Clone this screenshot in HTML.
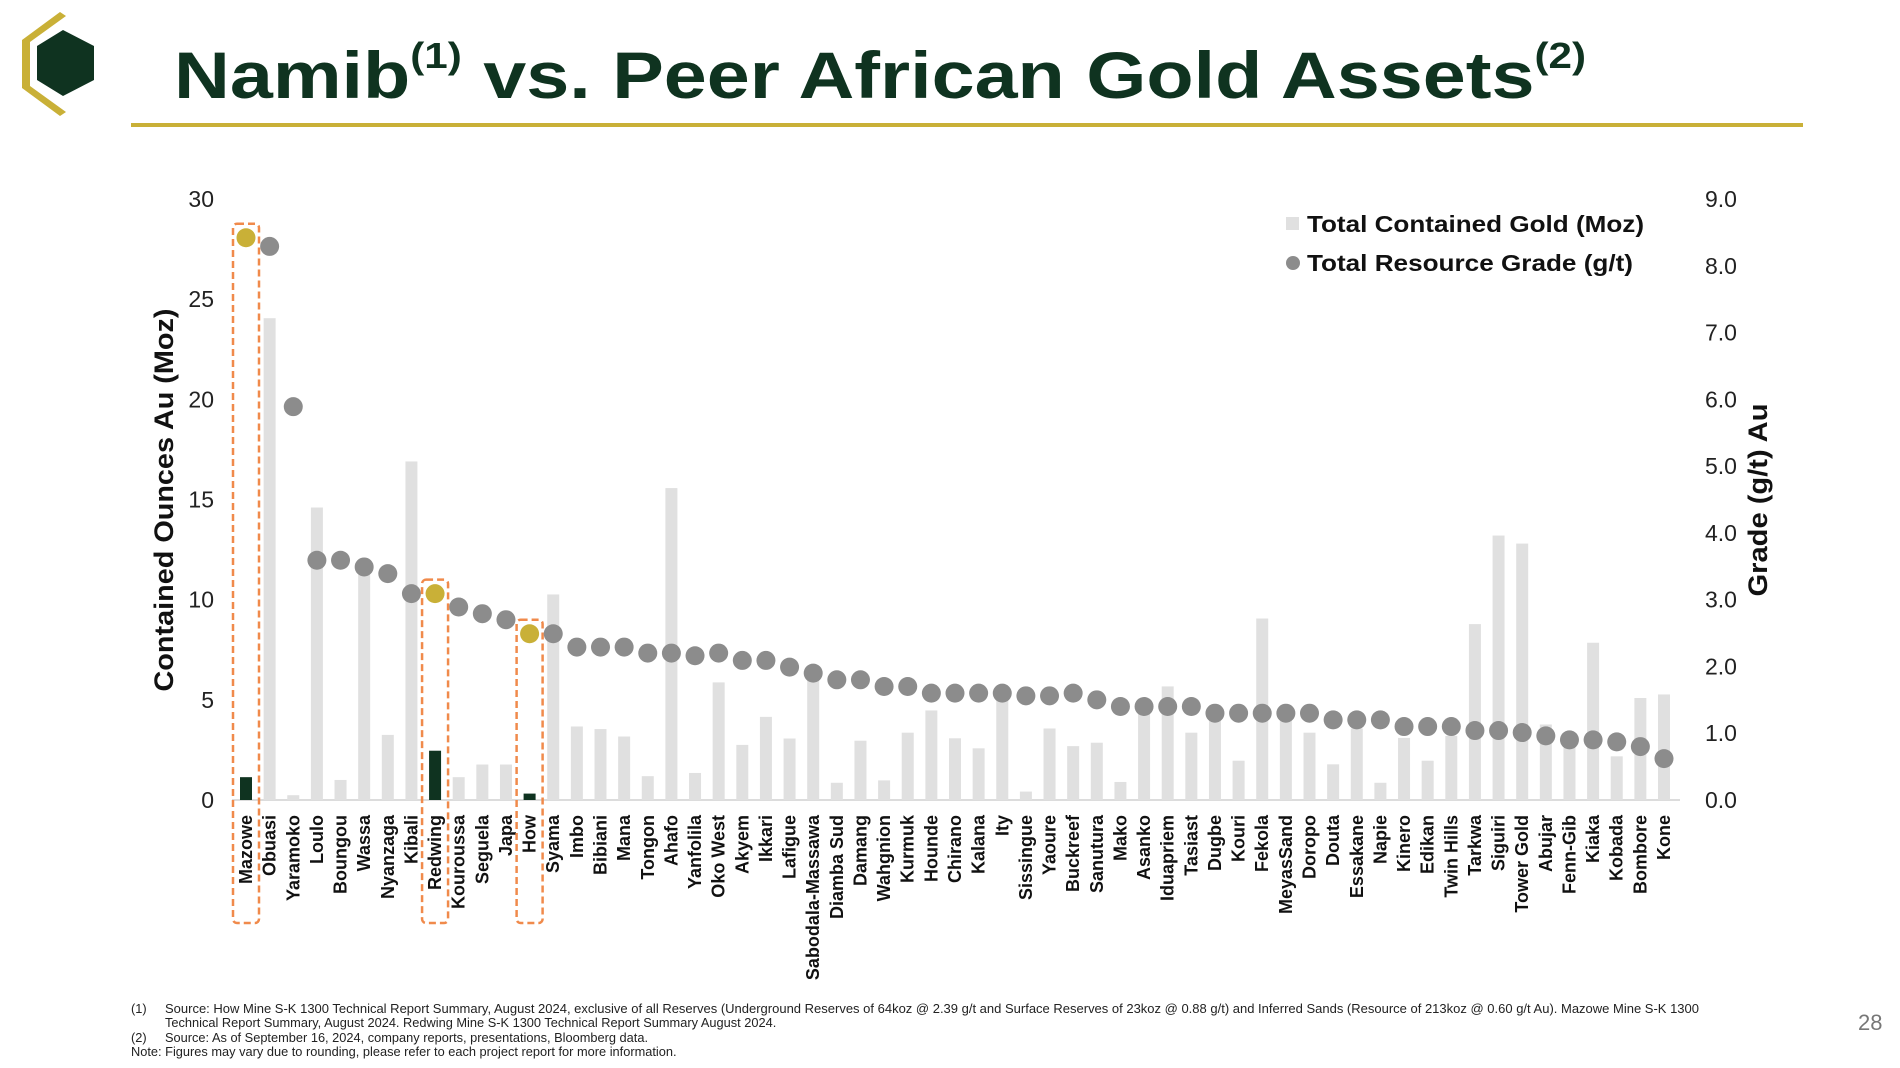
<!DOCTYPE html>
<html><head><meta charset="utf-8"><style>
html,body{margin:0;padding:0;background:#fff;}
svg{display:block;font-family:"Liberation Sans",sans-serif;}
</style></head><body>
<svg id="s" width="1900" height="1068" viewBox="0 0 1900 1068" xmlns="http://www.w3.org/2000/svg">
<g>
<polygon points="60,12 22,40 22,88 60,116 66,112 30,86 30,42 66,16" fill="#c9b037"/>
<polygon points="63,30 94,46 94,80 63,96 37,80 37,46" fill="#0f3320"/>
</g>
<text x="174" y="98" font-size="66" font-weight="bold" fill="#0f3320" textLength="1412" lengthAdjust="spacingAndGlyphs">Namib<tspan font-size="36" dy="-30">(1)</tspan><tspan dy="30"> vs. Peer African Gold Assets</tspan><tspan font-size="36" dy="-30">(2)</tspan></text>
<rect x="131" y="123" width="1672" height="4" fill="#c9b037"/>
<g id="chart"></g>
<text transform="translate(173,500) rotate(-90)" text-anchor="middle" font-size="27" font-weight="bold" fill="#111" textLength="383" lengthAdjust="spacingAndGlyphs">Contained Ounces Au (Moz)</text>
<text transform="translate(1767,500) rotate(-90)" text-anchor="middle" font-size="27" font-weight="bold" fill="#111" textLength="193" lengthAdjust="spacingAndGlyphs">Grade (g/t) Au</text>
<g>
<rect x="1286" y="217" width="13" height="13" fill="#e0e0e0"/>
<text x="1307" y="232" font-size="23" font-weight="bold" fill="#111" textLength="337" lengthAdjust="spacingAndGlyphs">Total Contained Gold (Moz)</text>
<circle cx="1293" cy="263" r="7" fill="#8c8c8c"/>
<text x="1307" y="271" font-size="23" font-weight="bold" fill="#111" textLength="326" lengthAdjust="spacingAndGlyphs">Total Resource Grade (g/t)</text>
</g>
<g font-size="12.8" fill="#222">
<text x="131" y="1013">(1)</text>
<text x="165" y="1013" textLength="1534" lengthAdjust="spacingAndGlyphs">Source: How Mine S-K 1300 Technical Report Summary, August 2024, exclusive of all Reserves (Underground Reserves of 64koz @ 2.39 g/t and Surface Reserves of 23koz @ 0.88 g/t) and Inferred Sands (Resource of 213koz @ 0.60 g/t Au). Mazowe Mine S-K 1300</text>
<text x="165" y="1027">Technical Report Summary, August 2024. Redwing Mine S-K 1300 Technical Report Summary August 2024.</text>
<text x="131" y="1042">(2)</text>
<text x="165" y="1042">Source: As of September 16, 2024, company reports, presentations, Bloomberg data.</text>
<text x="131" y="1056">Note: Figures may vary due to rounding, please refer to each project report for more information.</text>
</g>
<text x="1858" y="1030" font-size="22" fill="#777">28</text>
</svg>
<script>
const categories=["Mazowe","Obuasi","Yaramoko","Loulo","Boungou","Wassa","Nyanzaga","Kibali","Redwing","Kouroussa","Seguela","Japa","How","Syama","Imbo","Bibiani","Mana","Tongon","Ahafo","Yanfolila","Oko West","Akyem","Ikkari","Lafigue","Sabodala-Massawa","Diamba Sud","Damang","Wahgnion","Kurmuk","Hounde","Chirano","Kalana","Ity","Sissingue","Yaoure","Buckreef","Sanutura","Mako","Asanko","Iduapriem","Tasiast","Dugbe","Kouri","Fekola","MeyasSand","Doropo","Douta","Essakane","Napie","Kinero","Edikan","Twin Hills","Tarkwa","Siguiri","Tower Gold","Abujar","Fenn-Gib","Kiaka","Kobada","Bombore","Kone"];
const goldMoz=[1.14,24.05,0.24,14.6,1.0,11.4,3.25,16.9,2.46,1.14,1.77,1.77,0.32,10.26,3.67,3.54,3.17,1.19,15.57,1.35,5.87,2.75,4.15,3.07,6.0,0.86,2.96,0.98,3.36,4.47,3.08,2.58,5.0,0.42,3.57,2.69,2.86,0.9,4.3,5.67,3.36,4.0,1.96,9.06,4.1,3.36,1.78,3.57,0.86,3.1,1.96,3.2,8.78,13.2,12.8,3.77,2.7,7.85,2.18,5.09,5.27];
const gradeGt=[8.42,8.29,5.89,3.59,3.59,3.49,3.39,3.09,3.09,2.89,2.79,2.7,2.49,2.49,2.29,2.29,2.29,2.2,2.2,2.16,2.2,2.09,2.09,1.99,1.9,1.8,1.8,1.7,1.7,1.6,1.6,1.6,1.6,1.56,1.56,1.6,1.5,1.4,1.4,1.4,1.4,1.3,1.3,1.3,1.3,1.3,1.2,1.2,1.2,1.1,1.1,1.1,1.04,1.04,1.01,0.96,0.9,0.9,0.87,0.8,0.62];
const highlighted=["Mazowe","Redwing","How"];
const leftTicks=[0,5,10,15,20,25,30];
const rightTicks=["0.0","1.0","2.0","3.0","4.0","5.0","6.0","7.0","8.0","9.0"];

const NS="http://www.w3.org/2000/svg";
const g=document.getElementById('chart');
const Y0=800,YT=199,X0=246,XN=1664;
const yL=v=>Y0-(Y0-YT)*v/30;
const yR=v=>Y0-(Y0-YT)*v/9;
const x=i=>X0+(XN-X0)*i/(categories.length-1);
function mk(t,a){const e=document.createElementNS(NS,t);for(const k in a)e.setAttribute(k,a[k]);g.appendChild(e);return e;}

leftTicks.forEach(v=>{const t=mk('text',{x:214,y:yL(v)+8,'text-anchor':'end','font-size':23,fill:'#222'});t.textContent=v;

});
rightTicks.forEach(v=>{const t=mk('text',{x:1705,y:yR(parseFloat(v))+8,'font-size':23,fill:'#222'});t.textContent=v;

});

const ax=mk('line',{x1:232,x2:1680,y1:Y0,y2:Y0,stroke:'#dcdcdc','stroke-width':2});



categories.forEach((c,i)=>{
  const hl=highlighted.includes(c);
  const b=mk('rect',{x:x(i)-6,y:yL(goldMoz[i]),width:12,height:Y0-yL(goldMoz[i]),fill:hl?'#0f3320':'#e0e0e0'});
  
  
});
categories.forEach((c,i)=>{
  const hl=highlighted.includes(c);
  const d=mk('circle',{cx:x(i),cy:yR(gradeGt[i]),r:9.5,fill:hl?'#c9b037':'#8c8c8c'});
  
  
  const t=mk('text',{transform:`translate(${x(i)+6},815) rotate(-90)`,'text-anchor':'end','font-size':18,'font-weight':'bold',fill:'#111'});
  t.textContent=c;
  
  
  if(hl){
    const top=yR(gradeGt[i])-14;
    const r=mk('rect',{x:x(i)-13,y:top,width:26,height:923-top,rx:4,fill:'none',stroke:'#f08a4b','stroke-width':2.5,'stroke-dasharray':'7 4'});
    
    
  }
});
</script>
</body></html>
